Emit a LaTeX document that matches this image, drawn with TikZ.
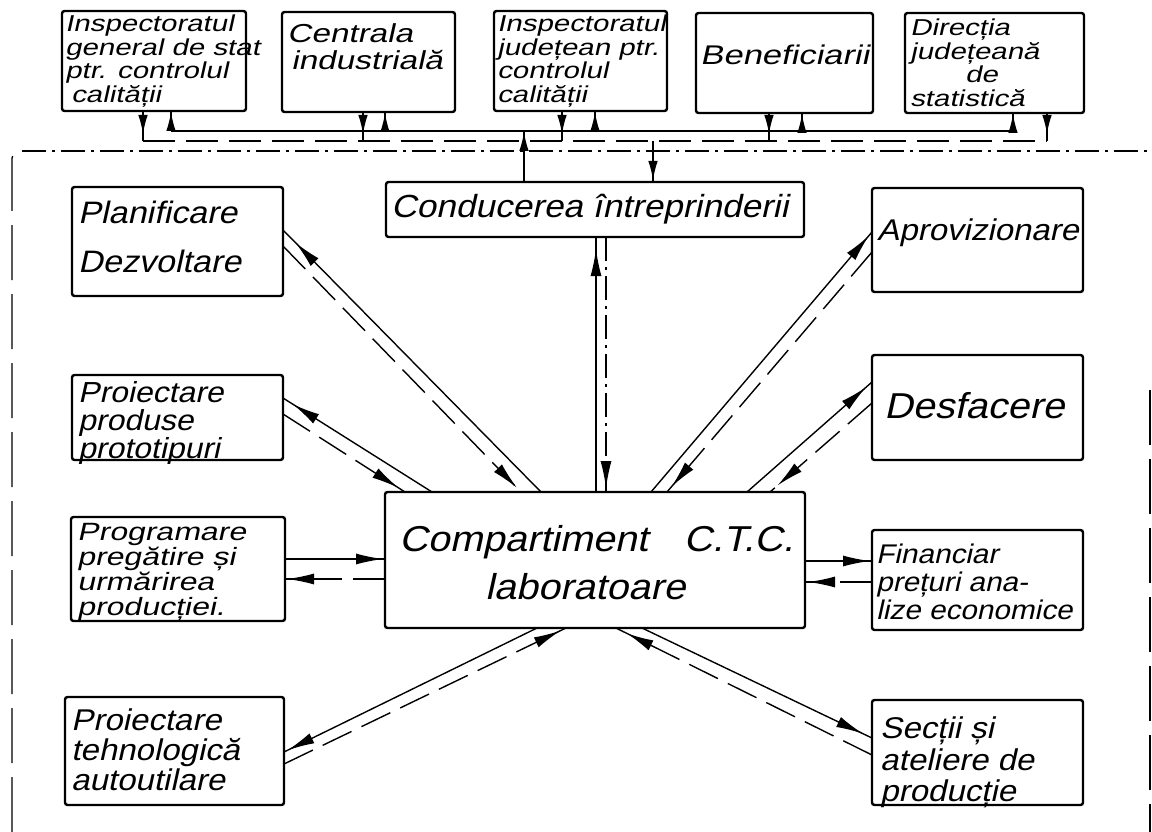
\documentclass[tikz,border=0pt]{standalone}
\usepackage{fontspec}
\newfontfamily\lettering{Liberation Sans}[FakeSlant=0.22,FakeStretch=1.1]
\newfontfamily\widelettering{Liberation Sans}[FakeSlant=0.22,FakeStretch=1.28]
\usetikzlibrary{arrows.meta,decorations.markings}
\newcommand\lsize[2]{\fontsize{#1}{#2}\selectfont}

\tikzset{
  box/.style={draw, line width=2.4pt, rounded corners=2.5pt, inner sep=0pt, outer sep=0pt, anchor=north west},
  txt/.style={anchor=north west, align=left, inner sep=0pt, outer sep=0pt},
  solidln/.style={line width=1.4pt},
  dashedln/.style={line width=1.4pt, dash pattern=on 32pt off 11pt},
  dashdotln/.style={line width=1.2pt, dash pattern=on 24pt off 6pt on 3pt off 6pt},
  bordln/.style={line width=1.3pt, dash pattern=on 55pt off 14pt},
  tipend/.style={postaction={decorate}, decoration={markings,
      mark=at position -#1 with {\arrow{Latex[length=27pt,width=11pt]}}}},
  smalltip/.style={postaction={decorate}, decoration={markings,
      mark=at position -#1 with {\arrow{Latex[length=19pt,width=9.5pt]}}}},
}

\begin{document}
\begin{tikzpicture}[x=1pt,y=-1pt]
\useasboundingbox (0,0) rectangle (1152,832);
\fill[white] (0,0) rectangle (1152,832);

% ---------- outside bodies ----------
\node[box, minimum width=184pt, minimum height=100pt] (b1) at (62,11) {};
\node[txt, font=\widelettering\lsize{23}{23.5}] (b1t) at ([xshift=3pt,yshift=-4pt]b1.north west)
  {Inspectoratul\\general de stat\\ptr. controlul\\\hspace*{6pt}calității};
\node[box, minimum width=173pt, minimum height=100pt] (b2) at (282,12) {};
\node[txt, font=\widelettering\lsize{26}{27}] (b2t) at ([xshift=5pt,yshift=-12pt]b2.north west)
  {Centrala\\\hspace*{4pt}industrială};
\node[box, minimum width=173pt, minimum height=100pt] (b3) at (494,11) {};
\node[txt, font=\widelettering\lsize{23}{23.5}] (b3t) at ([xshift=3pt,yshift=-4pt]b3.north west)
  {Inspectoratul\\județean ptr.\\controlul\\calității};
\node[box, minimum width=177pt, minimum height=100pt] (b4) at (696,13) {};
\node[txt, font=\widelettering\lsize{27}{30}] (b4t) at ([xshift=4pt,yshift=-32pt]b4.north west)
  {Beneficiarii};
\node[box, minimum width=179pt, minimum height=100pt] (b5) at (905,13) {};
\node[txt, font=\widelettering\lsize{23}{23.5}] (b5t) at ([xshift=5pt,yshift=-6pt]b5.north west)
  {Direcția\\județeană\\\hspace*{55pt}de\\statistică};

% ---------- enterprise ----------
\node[box, minimum width=418pt, minimum height=55pt] (con) at (386,182) {};
\node[txt, font=\lettering\lsize{32}{32}] (cont) at ([xshift=5pt,yshift=-12pt]con.north west)
  {Conducerea întreprinderii};

\node[box, minimum width=420pt, minimum height=136pt] (ctc) at (385,492) {};
\node[txt, font=\lettering\lsize{36}{48}] (ctct) at ([xshift=14pt,yshift=-33pt]ctc.north west)
  {Compartiment\hspace{36pt}C.T.C.\\\hspace*{86pt}laboratoare};

\node[box, minimum width=211pt, minimum height=109pt] (p1) at (72,187) {};
\node[txt, font=\lettering\lsize{31}{49}] (p1t) at ([xshift=6pt,yshift=-14pt]p1.north west)
  {Planificare\\Dezvoltare};
\node[box, minimum width=211pt, minimum height=85pt] (p2) at (72,375) {};
\node[txt, font=\lettering\lsize{29}{28}] (p2t) at ([xshift=6pt,yshift=-6pt]p2.north west)
  {Proiectare\\produse\\prototipuri};
\node[box, minimum width=214pt, minimum height=104pt] (p3) at (71,517) {};
\node[txt, font=\widelettering\lsize{25}{25}] (p3t) at ([xshift=6pt,yshift=-6pt]p3.north west)
  {Programare\\pregătire și\\urmărirea\\producției.};
\node[box, minimum width=219pt, minimum height=108pt] (p4) at (65,697) {};
\node[txt, font=\lettering\lsize{30}{30}] (p4t) at ([xshift=6pt,yshift=-12pt]p4.north west)
  {Proiectare\\tehnologică\\autoutilare};

\node[box, minimum width=211pt, minimum height=104pt] (r1) at (872,188) {};
\node[txt, font=\lettering\lsize{30}{30}] (r1t) at ([xshift=5pt,yshift=-31pt]r1.north west)
  {Aprovizionare};
\node[box, minimum width=211pt, minimum height=105pt] (r2) at (872,355) {};
\node[txt, font=\lettering\lsize{36}{36}] (r2t) at ([xshift=12pt,yshift=-37pt]r2.north west)
  {Desfacere};
\node[box, minimum width=211pt, minimum height=100pt] (r3) at (872,530) {};
\node[txt, font=\lettering\lsize{27}{28}] (r3t) at ([xshift=4pt,yshift=-14pt]r3.north west)
  {Financiar\\prețuri ana-\\lize economice};
\node[box, minimum width=211pt, minimum height=105pt] (r4) at (872,700) {};
\node[txt, font=\lettering\lsize{30}{31.5}] (r4t) at ([xshift=8pt,yshift=-17pt]r4.north west)
  {Secții și\\ateliere de\\producție};

% ---------- region borders ----------
\draw[dashdotln] (22,151) -- (1152,151);
\draw[bordln] (12,832) -- (12,162) .. controls (12,155) .. (19,152);
\draw[bordln] (1150,390) -- (1150,832);

% ---------- buses to the outside bodies ----------
\coordinate (upbus) at (0,131);
\coordinate (lowbus) at (0,141);
\coordinate (b1d) at ([xshift=81pt]b1.south west);
\coordinate (b1u) at ([xshift=109pt]b1.south west);
\coordinate (b2d) at ([xshift=81pt]b2.south west);
\coordinate (b2u) at ([xshift=103pt]b2.south west);
\coordinate (b3d) at ([xshift=68pt]b3.south west);
\coordinate (b3u) at ([xshift=101pt]b3.south west);
\coordinate (b4d) at ([xshift=73pt]b4.south west);
\coordinate (b4u) at ([xshift=106pt]b4.south west);
\coordinate (b5u) at ([xshift=108pt]b5.south west);
\coordinate (b5d) at ([xshift=142pt]b5.south west);

\draw[solidln] (b1u |- upbus) -- (b5u |- upbus);
\draw[dashedln] (b1d |- lowbus) -- (b5d |- lowbus);
\foreach \k in {b1,b2,b3,b4,b5}{
  \draw[solidln, smalltip=7pt] (\k d) -- (\k d |- lowbus);
  \draw[solidln, smalltip=1pt] (\k u |- upbus) -- (\k u);
}

\coordinate (conu) at ([xshift=138pt]con.north west);
\coordinate (cond) at ([xshift=267pt]con.north west);
\draw[solidln, smalltip=1pt] (conu) -- (conu |- upbus);
\draw[solidln, smalltip=2pt] (cond |- lowbus) -- (cond);

% ---------- management <-> C.T.C. ----------
\draw[solidln, tipend=12pt] ([xshift=211pt]ctc.north west) -- ([xshift=210pt]con.south west);
\draw[dashdotln, tipend=4pt] ([xshift=220pt]con.south west) -- ([xshift=221pt]ctc.north west);

% ---------- departments <-> C.T.C. ----------
% solid: C.T.C. to department, dashed: department to C.T.C.
\draw[solidln, tipend=18pt] ([xshift=156pt]ctc.north west) -- ([yshift=-43pt]p1.north east);
\draw[dashedln, tipend=6pt] ([yshift=-59pt]p1.north east) -- ([xshift=136pt]ctc.north west);

\draw[solidln, tipend=12pt] ([xshift=47pt]ctc.north west) -- ([yshift=-23pt]p2.north east);
\draw[dashedln, tipend=8pt] ([yshift=-39pt]p2.north east) -- ([xshift=20pt]ctc.north west);

\draw[solidln, tipend=2pt] ([yshift=-42pt]p3.north east) -- ([yshift=-67pt]ctc.north west);
\draw[dashedln, tipend=2pt] ([yshift=-87pt]ctc.north west) -- ([yshift=-62pt]p3.north east);

\draw[solidln, tipend=4pt] ([xshift=152pt]ctc.south west) -- ([yshift=-55pt]p4.north east);
\draw[dashedln, tipend=6pt] ([yshift=-67pt]p4.north east) -- ([xshift=181pt]ctc.south west);

\draw[solidln, tipend=5pt] ([xshift=266pt]ctc.north west) -- ([yshift=-44pt]r1.north west);
\draw[dashedln, tipend=7pt] ([yshift=-64pt]r1.north west) -- ([xshift=282pt]ctc.north west);

\draw[solidln, tipend=8pt] ([xshift=362pt]ctc.north west) -- ([yshift=-27pt]r2.north west);
\draw[dashedln, tipend=10pt] ([yshift=-48pt]r2.north west) -- ([xshift=385pt]ctc.north west);

\draw[solidln, tipend=2pt] ([yshift=-69pt]ctc.north east) -- ([yshift=-31pt]r3.north west);
\draw[dashedln, tipend=3pt] ([yshift=-52pt]r3.north west) -- ([yshift=-90pt]ctc.north east);

\draw[solidln, tipend=10pt] ([xshift=257pt]ctc.south west) -- ([yshift=-38pt]r4.north west);
\draw[dashedln, tipend=12pt] ([yshift=-55pt]r4.north west) -- ([xshift=231pt]ctc.south west);
\end{tikzpicture}
\end{document}
